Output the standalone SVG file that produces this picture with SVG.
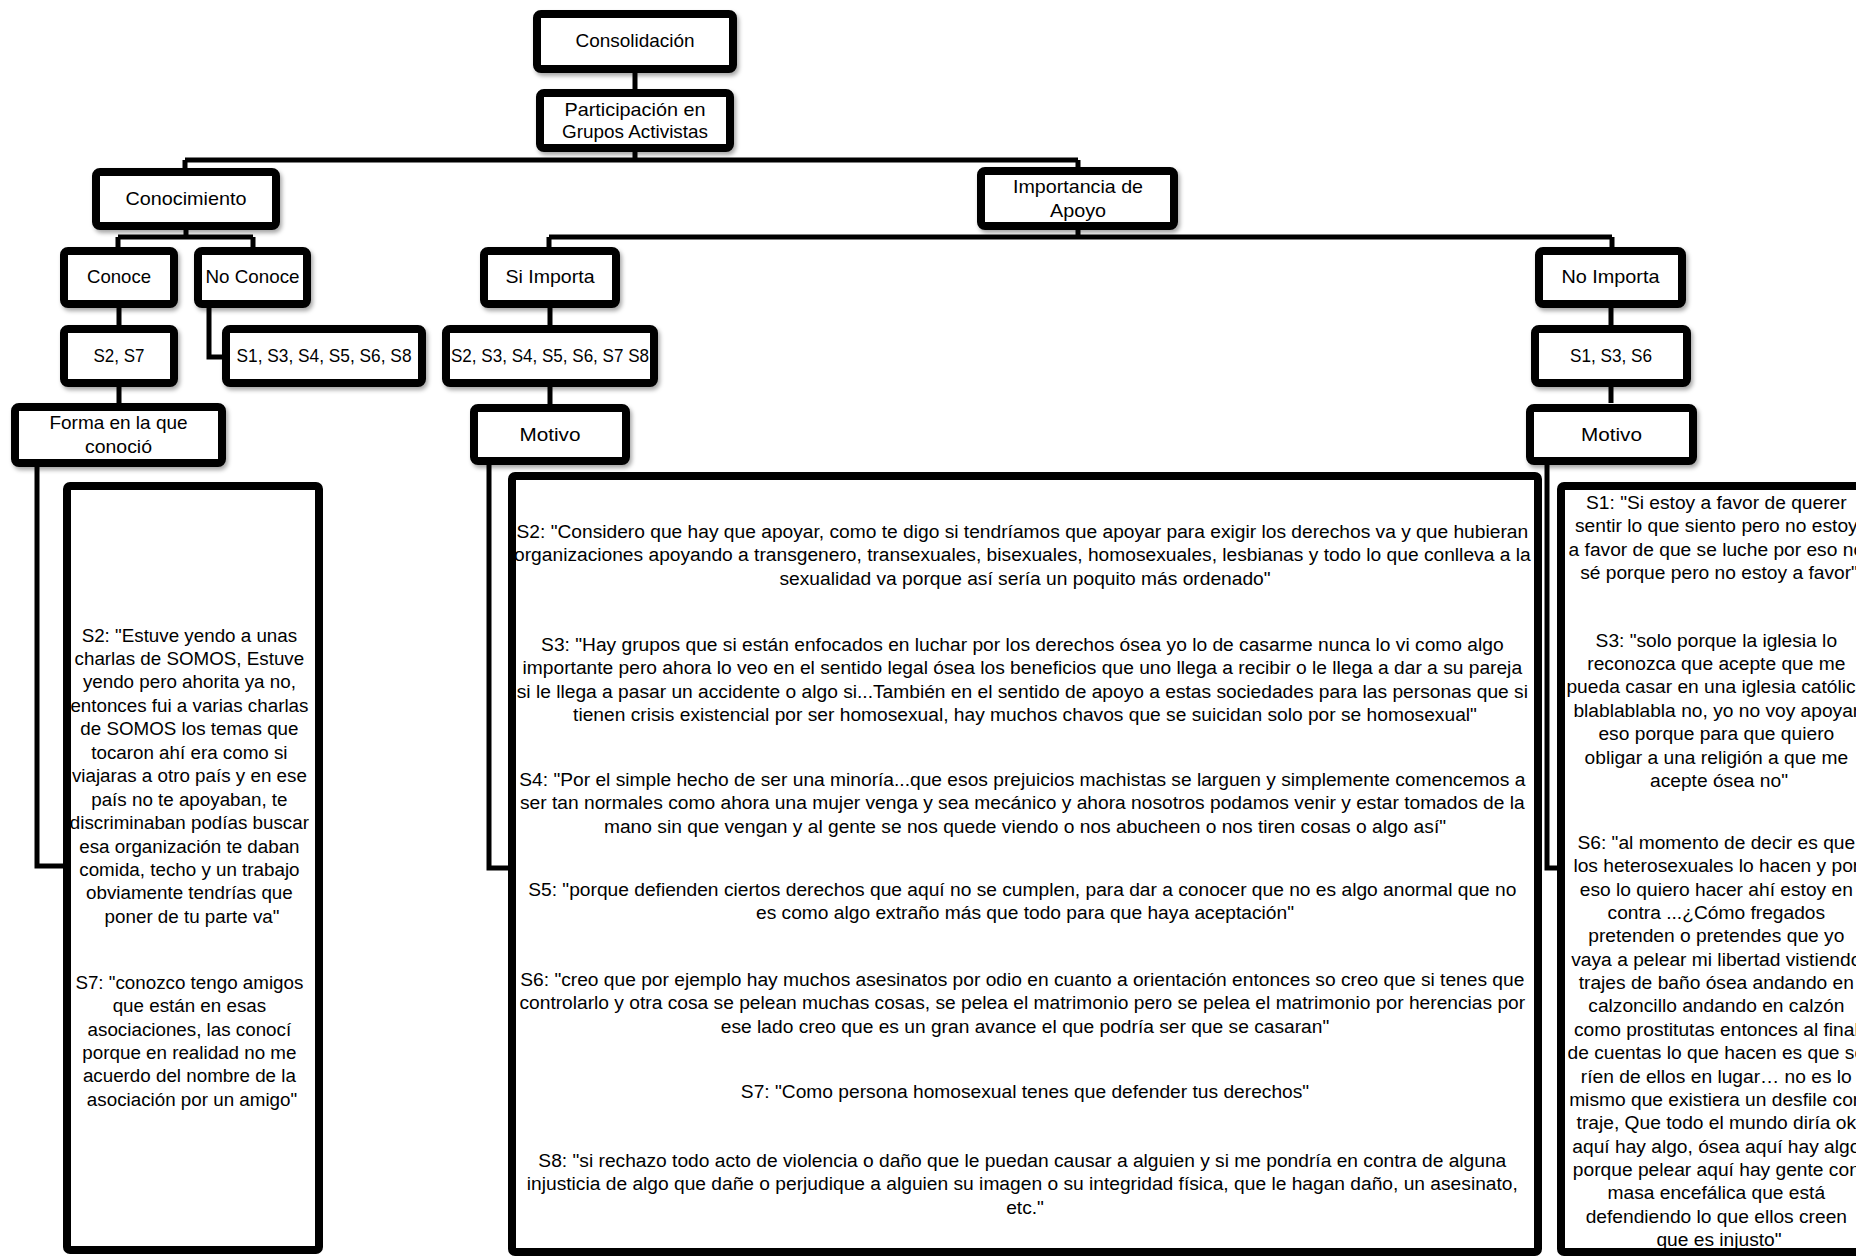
<svg xmlns="http://www.w3.org/2000/svg" width="1856" height="1256" viewBox="0 0 1856 1256">
<defs>
<filter id="sh" x="-10%" y="-10%" width="130%" height="140%">
<feDropShadow dx="2" dy="3" stdDeviation="2" flood-color="#000" flood-opacity="0.35"/>
</filter>
<style>
.box{fill:#fff;stroke:#000;stroke-width:8;filter:url(#sh)}
.qbox{fill:#fff;stroke:#000;stroke-width:8}
.lbl{font-family:"Liberation Sans",Arial,sans-serif;font-size:18.5px;fill:#000;text-anchor:middle}
.q{font-family:"Liberation Sans",Arial,sans-serif;font-size:19.2px;fill:#000;text-anchor:middle}
.ql{font-family:"Liberation Sans",Arial,sans-serif;font-size:18.8px;fill:#000;text-anchor:middle}
.c{fill:none;stroke:#000;stroke-width:5;stroke-linejoin:miter}
</style>
</defs>
<rect width="1856" height="1256" fill="#fff"/>

<g id="connectors">
<path class="c" d="M635 73V89"/>
<path class="c" d="M635 152V160M185 160H1078M185 160V168M1078 160V167"/>
<path class="c" d="M186 230V237M118 237H253M118 237V247M253 237V247"/>
<path class="c" d="M119 308V325"/>
<path class="c" d="M209 308V357H222"/>
<path class="c" d="M119 387V404"/>
<path class="c" d="M37 467V866H63"/>
<path class="c" d="M1078 230V237M549 237H1612M549 237V247M1612 237V247"/>
<path class="c" d="M550 308V325"/>
<path class="c" d="M550 387V404"/>
<path class="c" d="M489 465V868H508"/>
<path class="c" d="M1611 308V325"/>
<path class="c" d="M1611 387V403"/>
<path class="c" d="M1547 465V868H1557"/>
</g>

<g id="n-consolidacion">
<rect class="box" x="537" y="14" width="196" height="55" rx="4"/>
<text class="lbl" x="635" y="47" textLength="119" lengthAdjust="spacingAndGlyphs">Consolidación</text>
</g>
<g id="n-participacion">
<rect class="box" x="540" y="93" width="190" height="55" rx="4"/>
<text class="lbl" x="635" y="116" textLength="141" lengthAdjust="spacingAndGlyphs">Participación en</text>
<text class="lbl" x="635" y="138" textLength="146" lengthAdjust="spacingAndGlyphs">Grupos Activistas</text>
</g>
<g id="n-conocimiento">
<rect class="box" x="96" y="172" width="180" height="54" rx="4"/>
<text class="lbl" x="186" y="205" textLength="121" lengthAdjust="spacingAndGlyphs">Conocimiento</text>
</g>
<g id="n-importancia">
<rect class="box" x="981" y="171" width="193" height="55" rx="4"/>
<text class="lbl" x="1078" y="193" textLength="130" lengthAdjust="spacingAndGlyphs">Importancia de</text>
<text class="lbl" x="1078" y="217" textLength="56" lengthAdjust="spacingAndGlyphs">Apoyo</text>
</g>
<g id="n-conoce">
<rect class="box" x="64" y="251" width="110" height="53" rx="4"/>
<text class="lbl" x="119" y="283" textLength="64" lengthAdjust="spacingAndGlyphs">Conoce</text>
</g>
<g id="n-noconoce">
<rect class="box" x="198" y="251" width="109" height="53" rx="4"/>
<text class="lbl" x="252.5" y="283" textLength="94" lengthAdjust="spacingAndGlyphs">No Conoce</text>
</g>
<g id="n-siimporta">
<rect class="box" x="484" y="251" width="132" height="53" rx="4"/>
<text class="lbl" x="550" y="283" textLength="89" lengthAdjust="spacingAndGlyphs">Si Importa</text>
</g>
<g id="n-noimporta">
<rect class="box" x="1539" y="251" width="143" height="53" rx="4"/>
<text class="lbl" x="1610.5" y="283" textLength="98" lengthAdjust="spacingAndGlyphs">No Importa</text>
</g>
<g id="n-s2s7">
<rect class="box" x="64" y="329" width="110" height="54" rx="4"/>
<text class="lbl" x="119" y="362" textLength="51" lengthAdjust="spacingAndGlyphs">S2, S7</text>
</g>
<g id="n-noconoce-list">
<rect class="box" x="226" y="329" width="196" height="54" rx="4"/>
<text class="lbl" x="324" y="362" textLength="175" lengthAdjust="spacingAndGlyphs">S1, S3, S4, S5, S6, S8</text>
</g>
<g id="n-siimporta-list">
<rect class="box" x="446" y="329" width="208" height="54" rx="4"/>
<text class="lbl" x="550" y="362" textLength="198" lengthAdjust="spacingAndGlyphs">S2, S3, S4, S5, S6, S7 S8</text>
</g>
<g id="n-noimporta-list">
<rect class="box" x="1535" y="329" width="152" height="54" rx="4"/>
<text class="lbl" x="1611" y="362" textLength="82" lengthAdjust="spacingAndGlyphs">S1, S3, S6</text>
</g>
<g id="n-forma">
<rect class="box" x="15" y="407" width="207" height="56" rx="4"/>
<text class="lbl" x="118.5" y="429" textLength="138" lengthAdjust="spacingAndGlyphs">Forma en la que</text>
<text class="lbl" x="118.5" y="453" textLength="67" lengthAdjust="spacingAndGlyphs">conoció</text>
</g>
<g id="n-motivo-si">
<rect class="box" x="474" y="408" width="152" height="53" rx="4"/>
<text class="lbl" x="550" y="441" textLength="61" lengthAdjust="spacingAndGlyphs">Motivo</text>
</g>
<g id="n-motivo-no">
<rect class="box" x="1530" y="408" width="163" height="53" rx="4"/>
<text class="lbl" x="1611.5" y="441" textLength="61" lengthAdjust="spacingAndGlyphs">Motivo</text>
</g>

<g id="n-quotes-forma">
<rect class="qbox" x="67" y="486" width="252" height="764" rx="3"/>
<text class="ql">
<tspan x="192" y="641.5">S2: "Estuve yendo a unas</tspan>
<tspan x="192" dy="23.45">charlas de SOMOS, Estuve</tspan>
<tspan x="192" dy="23.45">yendo pero ahorita ya no,</tspan>
<tspan x="192" dy="23.45">entonces fui a varias charlas</tspan>
<tspan x="192" dy="23.45">de SOMOS los temas que</tspan>
<tspan x="192" dy="23.45">tocaron ahí era como si</tspan>
<tspan x="192" dy="23.45">viajaras a otro país y en ese</tspan>
<tspan x="192" dy="23.45">país no te apoyaban, te</tspan>
<tspan x="192" dy="23.45">discriminaban podías buscar</tspan>
<tspan x="192" dy="23.45">esa organización te daban</tspan>
<tspan x="192" dy="23.45">comida, techo y un trabajo</tspan>
<tspan x="192" dy="23.45">obviamente tendrías que</tspan>
<tspan x="192" dy="23.45">poner de tu parte va"</tspan>
</text>
<text class="ql">
<tspan x="192" y="989">S7: "conozco tengo amigos</tspan>
<tspan x="192" dy="23.3">que están en esas</tspan>
<tspan x="192" dy="23.3">asociaciones, las conocí</tspan>
<tspan x="192" dy="23.3">porque en realidad no me</tspan>
<tspan x="192" dy="23.3">acuerdo del nombre de la</tspan>
<tspan x="192" dy="23.3">asociación por un amigo"</tspan>
</text>
</g>

<g id="n-quotes-si">
<rect class="qbox" x="512" y="476" width="1026" height="776" rx="3"/>
<text class="q">
<tspan x="1025" y="538">S2: "Considero que hay que apoyar, como te digo si tendríamos que apoyar para exigir los derechos va y que hubieran</tspan>
<tspan x="1025" dy="23.4">organizaciones apoyando a transgenero, transexuales, bisexuales, homosexuales, lesbianas y todo lo que conlleva a la</tspan>
<tspan x="1025" dy="23.4">sexualidad va porque así sería un poquito más ordenado"</tspan>
</text>
<text class="q">
<tspan x="1025" y="651">S3: "Hay grupos que si están enfocados en luchar por los derechos ósea yo lo de casarme nunca lo vi como algo</tspan>
<tspan x="1025" dy="23.4">importante pero ahora lo veo en el sentido legal ósea los beneficios que uno llega a recibir o le llega a dar a su pareja</tspan>
<tspan x="1025" dy="23.4">si le llega a pasar un accidente o algo si...También en el sentido de apoyo a estas sociedades para las personas que si</tspan>
<tspan x="1025" dy="23.4">tienen crisis existencial por ser homosexual, hay muchos chavos que se suicidan solo por se homosexual"</tspan>
</text>
<text class="q">
<tspan x="1025" y="786">S4: "Por el simple hecho de ser una minoría...que esos prejuicios machistas se larguen y simplemente comencemos a</tspan>
<tspan x="1025" dy="23.4">ser tan normales como ahora una mujer venga y sea mecánico y ahora nosotros podamos venir y estar tomados de la</tspan>
<tspan x="1025" dy="23.4">mano sin que vengan y al gente se nos quede viendo o nos abucheen o nos tiren cosas o algo así"</tspan>
</text>
<text class="q">
<tspan x="1025" y="896">S5: "porque defienden ciertos derechos que aquí no se cumplen, para dar a conocer que no es algo anormal que no</tspan>
<tspan x="1025" dy="23.4">es como algo extraño más que todo para que haya aceptación"</tspan>
</text>
<text class="q">
<tspan x="1025" y="986">S6: "creo que por ejemplo hay muchos asesinatos por odio en cuanto a orientación entonces so creo que si tenes que</tspan>
<tspan x="1025" dy="23.4">controlarlo y otra cosa se pelean muchas cosas, se pelea el matrimonio pero se pelea el matrimonio por herencias por</tspan>
<tspan x="1025" dy="23.4">ese lado creo que es un gran avance el que podría ser que se casaran"</tspan>
</text>
<text class="q" x="1025" y="1098">S7: "Como persona homosexual tenes que defender tus derechos"</text>
<text class="q">
<tspan x="1025" y="1167">S8: "si rechazo todo acto de violencia o daño que le puedan causar a alguien y si me pondría en contra de alguna</tspan>
<tspan x="1025" dy="23.4">injusticia de algo que dañe o perjudique a alguien su imagen o su integridad física, que le hagan daño, un asesinato,</tspan>
<tspan x="1025" dy="23.4">etc."</tspan>
</text>
</g>

<g id="n-quotes-no">
<rect class="qbox" x="1561" y="486" width="330" height="766" rx="3"/>
<text class="q">
<tspan x="1719" y="509">S1: "Si estoy a favor de querer</tspan>
<tspan x="1719" dy="23.4">sentir lo que siento pero no estoy</tspan>
<tspan x="1719" dy="23.4">a favor de que se luche por eso no</tspan>
<tspan x="1719" dy="23.4">sé porque pero no estoy a favor"</tspan>
</text>
<text class="q">
<tspan x="1719" y="646.5">S3: "solo porque la iglesia lo</tspan>
<tspan x="1719" dy="23.4">reconozca que acepte que me</tspan>
<tspan x="1719" dy="23.4">pueda casar en una iglesia católica</tspan>
<tspan x="1719" dy="23.4">blablablabla no, yo no voy apoyar</tspan>
<tspan x="1719" dy="23.4">eso porque para que quiero</tspan>
<tspan x="1719" dy="23.4">obligar a una religión a que me</tspan>
<tspan x="1719" dy="23.4">acepte ósea no"</tspan>
</text>
<text class="q">
<tspan x="1719" y="849">S6: "al momento de decir es que</tspan>
<tspan x="1719" dy="23.35">los heterosexuales lo hacen y por</tspan>
<tspan x="1719" dy="23.35">eso lo quiero hacer ahí estoy en</tspan>
<tspan x="1719" dy="23.35">contra ...¿Cómo fregados</tspan>
<tspan x="1719" dy="23.35">pretenden o pretendes que yo</tspan>
<tspan x="1719" dy="23.35">vaya a pelear mi libertad vistiendo</tspan>
<tspan x="1719" dy="23.35">trajes de baño ósea andando en</tspan>
<tspan x="1719" dy="23.35">calzoncillo andando en calzón</tspan>
<tspan x="1719" dy="23.35">como prostitutas entonces al final</tspan>
<tspan x="1719" dy="23.35">de cuentas lo que hacen es que se</tspan>
<tspan x="1719" dy="23.35">ríen de ellos en lugar… no es lo</tspan>
<tspan x="1719" dy="23.35">mismo que existiera un desfile con</tspan>
<tspan x="1719" dy="23.35">traje, Que todo el mundo diría ok</tspan>
<tspan x="1719" dy="23.35">aquí hay algo, ósea aquí hay algo</tspan>
<tspan x="1719" dy="23.35">porque pelear aquí hay gente con</tspan>
<tspan x="1719" dy="23.35">masa encefálica que está</tspan>
<tspan x="1719" dy="23.35">defendiendo lo que ellos creen</tspan>
<tspan x="1719" dy="23.35">que es injusto"</tspan>
</text>
</g>
</svg>
